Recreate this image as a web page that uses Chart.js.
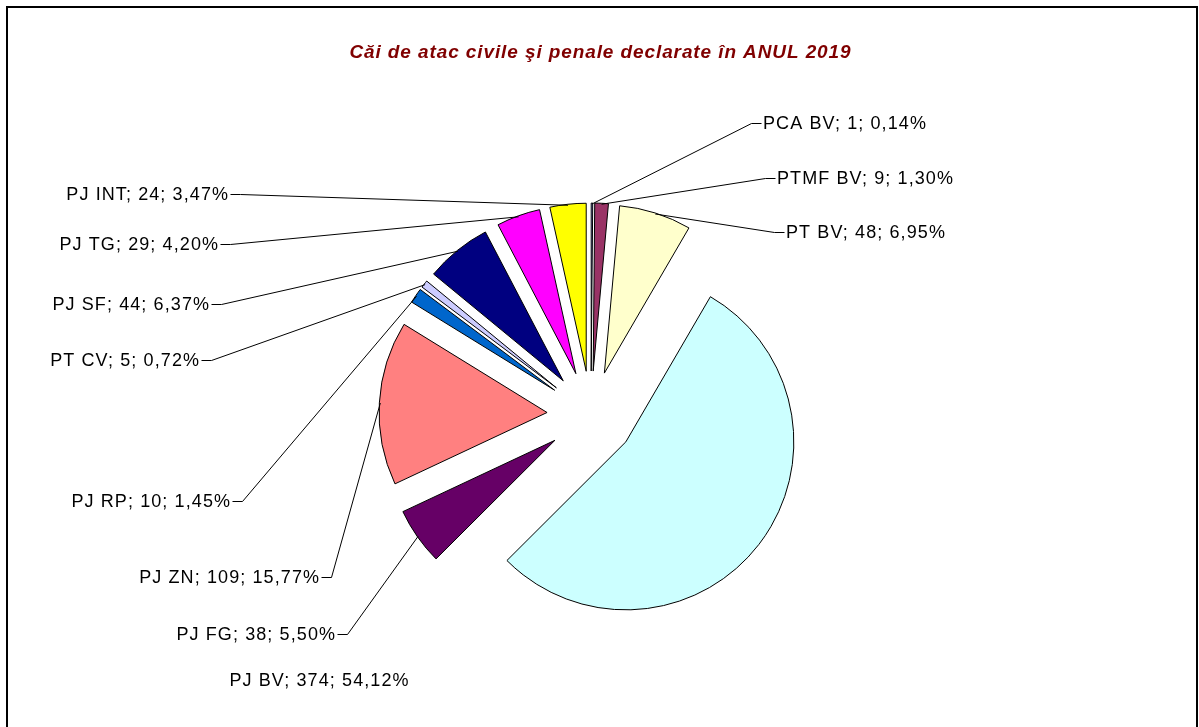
<!DOCTYPE html>
<html><head><meta charset="utf-8">
<script src="https://cdn.jsdelivr.net/npm/chart.js@4/dist/chart.umd.min.js"></script>
<style>html,body{margin:0;padding:0;background:#fff;overflow:hidden}#wrap{position:relative;width:1199px;height:727px}</style>
</head><body>
<div id="wrap"><canvas id="c" width="1199" height="727"></canvas></div>
<script>
// ---- data ----
const chartTitle = 'Căi de atac civile şi penale declarate în ANUL 2019';
const categories = ['PCA BV', 'PTMF BV', 'PT BV', 'PJ BV', 'PJ FG', 'PJ ZN', 'PJ RP', 'PT CV', 'PJ SF', 'PJ TG', 'PJ INT'];
const counts = [1, 9, 48, 374, 38, 109, 10, 5, 44, 29, 24];

// ---- styles / layout ----
const sliceColors = ['#9999FF', '#993366', '#FFFFCC', '#CCFFFF', '#660066', '#FF8080', '#0066CC', '#CCCCFF', '#000080', '#FF00FF', '#FFFF00'];
const labelX = [763, 777, 786, 319, 335, 319, 230, 199, 209, 218, 228];
const labelY = [124, 179, 233, 681, 635, 578, 502, 361, 305, 245, 195];
const labelAlign = ['left', 'left', 'left', 'center', 'right', 'right', 'right', 'right', 'right', 'right', 'right'];
const showLeader = [true, true, true, false, true, true, true, true, true, true, true];
const labelSpacing = 1.1;
const titleSpacing = 0.9;

// explode slices by pure translation (same radius for all slices)
const baseArcDraw = Chart.ArcElement.prototype.draw;
Chart.ArcElement.prototype.draw = function (ctx) {
  const o = this.options;
  const shift = o.offset || 0;
  const half = (this.startAngle + this.endAngle) / 2;
  this.options = Object.assign({}, o, { offset: 0 });
  ctx.save();
  ctx.translate(Math.cos(half) * shift, Math.sin(half) * shift);
  baseArcDraw.call(this, ctx);
  ctx.restore();
  this.options = o;
};

const framePlugin = {
  id: 'frame',
  beforeDraw(chart) {
    const ctx = chart.ctx;
    ctx.save();
    ctx.fillStyle = '#fff';
    ctx.fillRect(0, 0, chart.width, chart.height);
    ctx.strokeStyle = '#000';
    ctx.lineWidth = 2;
    ctx.strokeRect(7, 7, 1190, 800);
    // title
    ctx.font = 'italic bold 19px "Liberation Sans", Arial, sans-serif';
    ctx.letterSpacing = titleSpacing + 'px';
    ctx.fillStyle = '#800000';
    ctx.textBaseline = 'alphabetic';
    ctx.textAlign = 'left';
    const w = ctx.measureText(chartTitle).width - titleSpacing;
    ctx.fillText(chartTitle, 600 - w / 2, 58);
    ctx.restore();
  }
};

const labelPlugin = {
  id: 'sliceLabels',
  afterDatasetsDraw(chart) {
    const ctx = chart.ctx;
    const meta = chart.getDatasetMeta(0);
    const total = counts.reduce((a, b) => a + b, 0);
    ctx.save();
    ctx.font = '18px "Liberation Sans", Arial, sans-serif';
    ctx.letterSpacing = labelSpacing + 'px';
    ctx.fillStyle = '#000';
    ctx.strokeStyle = '#000';
    ctx.lineWidth = 1;
    ctx.textBaseline = 'middle';
    ctx.textAlign = 'left';
    meta.data.forEach((arc, i) => {
      const pct = (counts[i] / total * 100).toFixed(2).replace('.', ',');
      const text = categories[i] + '; ' + counts[i] + '; ' + pct + '%';
      const w = ctx.measureText(text).width - labelSpacing;
      let left;
      if (labelAlign[i] === 'left') left = labelX[i];
      else if (labelAlign[i] === 'right') left = labelX[i] - w;
      else left = labelX[i] - w / 2;
      ctx.fillText(text, left, labelY[i]);
      if (showLeader[i]) {
        const half = (arc.startAngle + arc.endAngle) / 2;
        const rr = arc.outerRadius + (arc.options.offset || 0) - 1;
        const px = arc.x + Math.cos(half) * rr;
        const py = arc.y + Math.sin(half) * rr;
        let sx, ex;
        if (labelAlign[i] === 'left') { sx = left - 2; ex = left - 12; }
        else { sx = left + w + 2; ex = left + w + 12; }
        const ey = labelY[i] - 1;
        ctx.beginPath();
        ctx.moveTo(Math.round(sx) + 0.5, Math.round(ey) + 0.5);
        ctx.lineTo(Math.round(ex) + 0.5, Math.round(ey) + 0.5);
        ctx.lineTo(px, py);
        ctx.stroke();
      }
    });
    ctx.restore();
  }
};

new Chart(document.getElementById('c'), {
  type: 'pie',
  data: {
    labels: categories,
    datasets: [{
      data: counts,
      backgroundColor: sliceColors,
      borderColor: '#000000',
      borderWidth: 1,
      offset: 44,
      radius: 168
    }]
  },
  options: {
    responsive: false,
    animation: false,
    devicePixelRatio: 1,
    layout: { padding: { left: 200, right: 217, top: 110, bottom: 7 } },
    plugins: { legend: { display: false }, tooltip: { enabled: false }, title: { display: false } }
  },
  plugins: [framePlugin, labelPlugin]
});
</script>
</body></html>
